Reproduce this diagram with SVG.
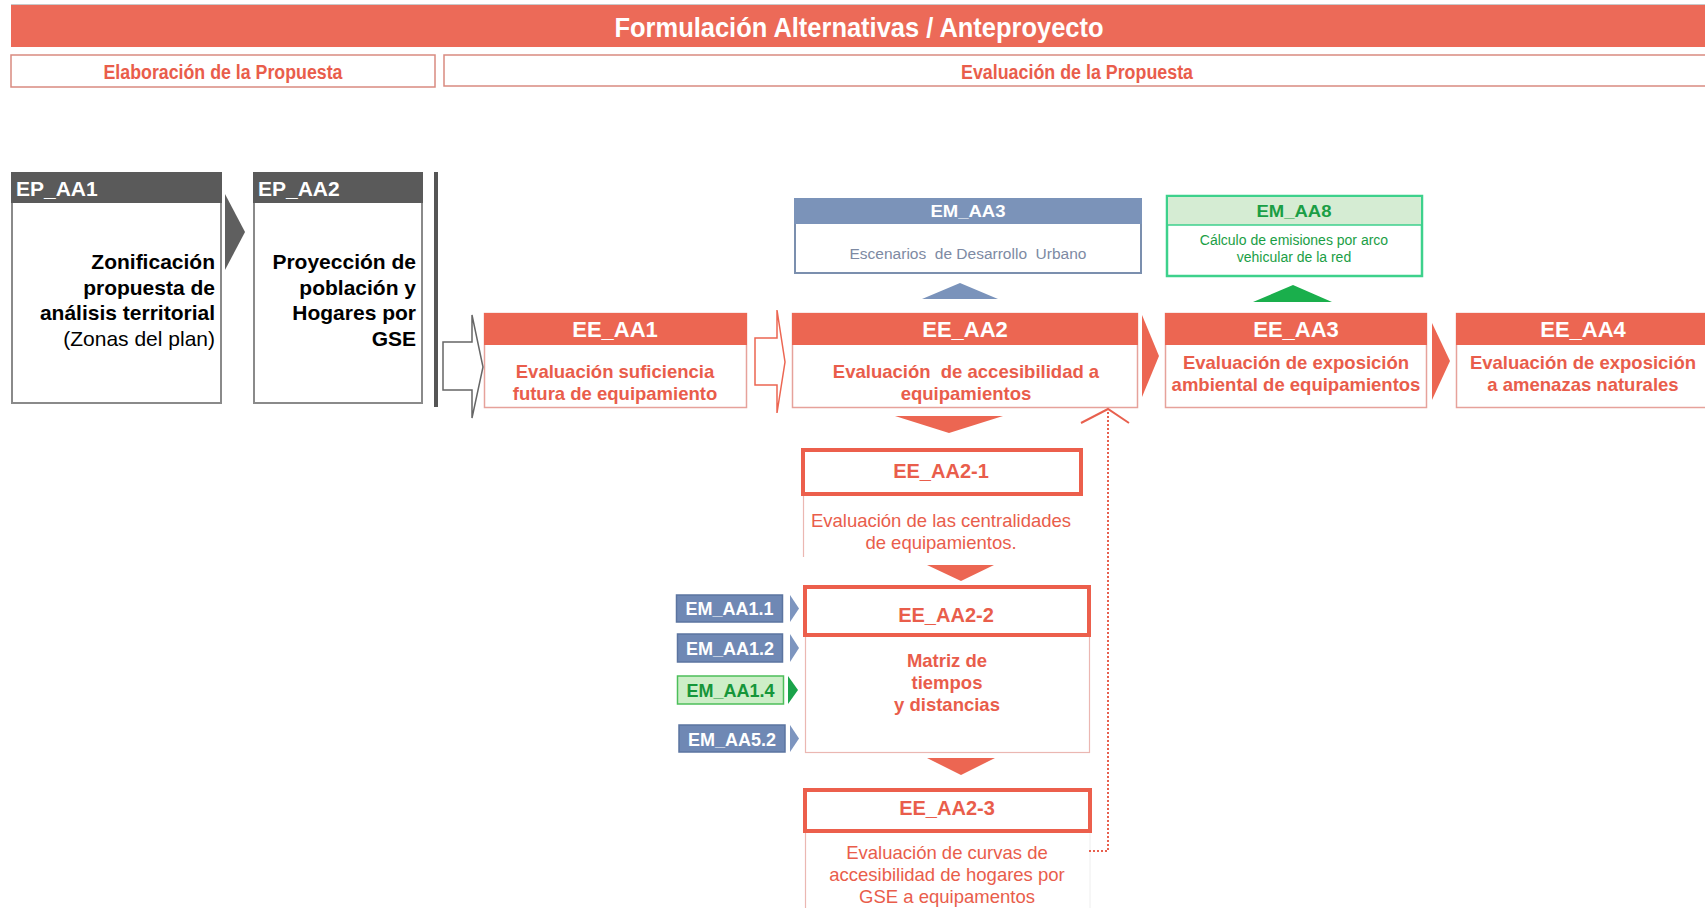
<svg xmlns="http://www.w3.org/2000/svg" width="1705" height="908" viewBox="0 0 1705 908">
<style>
text{font-family:"Liberation Sans",Arial,sans-serif}
.b{font-weight:bold}
.w{fill:#ffffff}
.r{fill:#e95d4b}
.hd{fill:#ec6652}
.ebox{fill:#ffffff;stroke:#e6a29b;stroke-width:1.5}
.thick{fill:#ffffff;stroke:#ec5f4c;stroke-width:4}
.thin{fill:none;stroke:#ebb7b2;stroke-width:1.2}
.ep{fill:#ffffff;stroke:#8a8a8a;stroke-width:2}
.eph{fill:#5a5a5a}
.emb{fill:#6f88b4;stroke:#5b74a0;stroke-width:1.5}
.emg{fill:#cdeec8;stroke:#4cbf5a;stroke-width:1.5}
.chb{fill:#7d95bf}
.chg{fill:#1aa34a}
.chr{fill:#ec6652}
</style>
<!-- header -->
<g id="title">
<line x1="11" y1="4.5" x2="1705" y2="4.5" stroke="#c8c8c8" stroke-width="1"/>
<rect x="11" y="5" width="1694" height="42" fill="#ec6a58"/>
<text x="859" y="37" class="b w" font-size="28" text-anchor="middle" textLength="489" lengthAdjust="spacingAndGlyphs">Formulación Alternativas / Anteproyecto</text>
</g>
<g id="sub-elaboracion">
<rect x="11" y="55" width="424" height="32" fill="#fff" stroke="#d98a80" stroke-width="1.5"/>
<text x="223" y="79" class="b r" font-size="20" text-anchor="middle" textLength="239" lengthAdjust="spacingAndGlyphs">Elaboración de la Propuesta</text>
</g>
<g id="sub-evaluacion">
<rect x="444" y="55" width="1270" height="31" fill="#fff" stroke="#d98a80" stroke-width="1.5"/>
<text x="1077" y="79" class="b r" font-size="20" text-anchor="middle" textLength="232" lengthAdjust="spacingAndGlyphs">Evaluación de la Propuesta</text>
</g>
<!-- EP nodes -->
<g id="EP_AA1">
<rect x="12" y="173" width="209" height="230" class="ep"/>
<rect x="11" y="172" width="211" height="31" class="eph"/>
<text x="16" y="196" class="b w" font-size="21">EP_AA1</text>
<text x="215" y="269" class="b" font-size="21" text-anchor="end">Zonificación</text>
<text x="215" y="295" class="b" font-size="21" text-anchor="end">propuesta de</text>
<text x="215" y="320" class="b" font-size="21" text-anchor="end">análisis territorial</text>
<text x="215" y="346" font-size="21" text-anchor="end">(Zonas del plan)</text>
</g>
<g id="EP_AA2">
<rect x="254" y="173" width="168" height="230" class="ep"/>
<rect x="253" y="172" width="170" height="31" class="eph"/>
<text x="258" y="196" class="b w" font-size="21">EP_AA2</text>
<text x="416" y="269" class="b" font-size="21" text-anchor="end">Proyección de</text>
<text x="416" y="295" class="b" font-size="21" text-anchor="end">población y</text>
<text x="416" y="320" class="b" font-size="21" text-anchor="end">Hogares por</text>
<text x="416" y="346" class="b" font-size="21" text-anchor="end">GSE</text>
</g>
<!-- EE nodes -->
<g id="EE_AA1">
<rect x="484.5" y="313.5" width="262" height="94" class="ebox"/>
<rect x="484" y="313" width="263" height="32" class="hd"/>
<text x="615" y="337" class="b w" font-size="22" text-anchor="middle">EE_AA1</text>
<text x="615" y="378" class="b r" font-size="18.5" text-anchor="middle">Evaluación suficiencia</text>
<text x="615" y="400" class="b r" font-size="18.5" text-anchor="middle">futura de equipamiento</text>
</g>
<g id="EE_AA2">
<rect x="792.5" y="313.5" width="345" height="94" class="ebox"/>
<rect x="792" y="313" width="346" height="32" class="hd"/>
<text x="965" y="337" class="b w" font-size="22" text-anchor="middle">EE_AA2</text>
<text x="966" y="378" class="b r" font-size="18.5" text-anchor="middle" xml:space="preserve">Evaluación  de accesibilidad a</text>
<text x="966" y="400" class="b r" font-size="18.5" text-anchor="middle">equipamientos</text>
</g>
<g id="EE_AA3">
<rect x="1165.5" y="313.5" width="261" height="94" class="ebox"/>
<rect x="1165" y="313" width="262" height="32" class="hd"/>
<text x="1296" y="337" class="b w" font-size="22" text-anchor="middle">EE_AA3</text>
<text x="1296" y="369" class="b r" font-size="18.5" text-anchor="middle">Evaluación de exposición</text>
<text x="1296" y="391" class="b r" font-size="18.5" text-anchor="middle">ambiental de equipamientos</text>
</g>
<g id="EE_AA4">
<rect x="1456.5" y="313.5" width="260" height="94" class="ebox"/>
<rect x="1456" y="313" width="260" height="32" class="hd"/>
<text x="1583" y="337" class="b w" font-size="22" text-anchor="middle">EE_AA4</text>
<text x="1583" y="369" class="b r" font-size="18.5" text-anchor="middle">Evaluación de exposición</text>
<text x="1583" y="391" class="b r" font-size="18.5" text-anchor="middle">a amenazas naturales</text>
</g>
<!-- EM top nodes -->
<g id="EM_AA3">
<rect x="795" y="199" width="346" height="74" fill="#fff" stroke="#7b8fae" stroke-width="2"/>
<rect x="794" y="198" width="348" height="26" fill="#7b93b9"/>
<text x="968" y="217" class="b w" font-size="17" text-anchor="middle" textLength="75" lengthAdjust="spacingAndGlyphs">EM_AA3</text>
<text x="968" y="259" font-size="15.5" fill="#7d8aa3" text-anchor="middle" xml:space="preserve">Escenarios  de Desarrollo  Urbano</text>
</g>
<g id="EM_AA8">
<rect x="1167" y="196" width="255" height="80" fill="#fff" stroke="#3dd18c" stroke-width="2.5"/>
<rect x="1168" y="197" width="253" height="28" fill="#d5ecd3"/>
<line x1="1167" y1="225" x2="1422" y2="225" stroke="#3dd18c" stroke-width="1.5"/>
<text x="1294" y="217" class="b" fill="#1a9e45" font-size="17" text-anchor="middle" textLength="75" lengthAdjust="spacingAndGlyphs">EM_AA8</text>
<text x="1294" y="245" fill="#1a9e45" font-size="14" text-anchor="middle">Cálculo de emisiones por arco</text>
<text x="1294" y="262" fill="#1a9e45" font-size="14" text-anchor="middle">vehicular de la red</text>
</g>
<!-- EE_AA2 sub nodes -->
<g id="EE_AA2-1">
<line x1="803.5" y1="495" x2="803.5" y2="557" class="thin"/>
<rect x="803" y="450" width="278" height="44" class="thick"/>
<text x="941" y="478" class="b r" font-size="20" text-anchor="middle">EE_AA2-1</text>
<text x="941" y="527" class="r" font-size="18.5" text-anchor="middle">Evaluación de las centralidades</text>
<text x="941" y="549" class="r" font-size="18.5" text-anchor="middle">de equipamientos.</text>
</g>
<g id="EE_AA2-2">
<rect x="805.5" y="636" width="284" height="116.5" class="thin"/>
<rect x="805" y="587" width="284" height="48" class="thick"/>
<text x="946" y="622" class="b r" font-size="20" text-anchor="middle">EE_AA2-2</text>
<text x="947" y="667" class="b r" font-size="18.5" text-anchor="middle">Matriz de</text>
<text x="947" y="689" class="b r" font-size="18.5" text-anchor="middle">tiempos</text>
<text x="947" y="711" class="b r" font-size="18.5" text-anchor="middle">y distancias</text>
</g>
<g id="EE_AA2-3">
<line x1="805.5" y1="832" x2="805.5" y2="908" class="thin"/>
<line x1="1090" y1="832" x2="1090" y2="908" stroke="#eeeeee" stroke-width="1"/>
<rect x="805" y="790" width="285" height="41" class="thick"/>
<text x="947" y="815" class="b r" font-size="20" text-anchor="middle">EE_AA2-3</text>
<text x="947" y="859" class="r" font-size="18.5" text-anchor="middle">Evaluación de curvas de</text>
<text x="947" y="881" class="r" font-size="18.5" text-anchor="middle">accesibilidad de hogares por</text>
<text x="947" y="903" class="r" font-size="18.5" text-anchor="middle">GSE a equipamentos</text>
</g>
<!-- EM small inputs -->
<g id="EM_AA1.1">
<rect x="676.5" y="595" width="106" height="27" class="emb"/>
<text x="729.5" y="615" class="b w" font-size="18" text-anchor="middle">EM_AA1.1</text>
</g>
<g id="EM_AA1.2">
<rect x="677.5" y="634" width="105" height="28" class="emb"/>
<text x="730" y="655" class="b w" font-size="18" text-anchor="middle">EM_AA1.2</text>
</g>
<g id="EM_AA1.4">
<rect x="677.5" y="676" width="106" height="28" class="emg"/>
<text x="730.5" y="697" class="b" fill="#16963a" font-size="18" text-anchor="middle">EM_AA1.4</text>
</g>
<g id="EM_AA5.2">
<rect x="679" y="725" width="106" height="27" class="emb"/>
<text x="732" y="746" class="b w" font-size="18" text-anchor="middle">EM_AA5.2</text>
</g>
<!-- connectors -->
<g id="connectors">
<polygon points="225,194 245,232 225,270" fill="#5f5f5f"/>
<rect x="434" y="172" width="4" height="235" fill="#555555"/>
<polygon points="443,342 472,342 472,315 483,367 472,418 472,390 443,390" fill="#fff" stroke="#666" stroke-width="1.5"/>
<polygon points="755,338 777,338 777,310 785,362 777,413 777,385 755,385" fill="#fff" stroke="#ec6652" stroke-width="1.5"/>
<polygon points="1142,315 1159,356 1142,397" class="chr"/>
<polygon points="1432,323 1450,361 1432,400" class="chr"/>
<polygon points="922,299 960,283 998,299" fill="#7a93bb"/>
<polygon points="1253,302 1293,285 1332,302" fill="#1aaf4c"/>
<polygon points="895,416 1003,416 949,433" class="chr"/>
<polygon points="927,565 994,565 961,581" class="chr"/>
<polygon points="927,758 995,758 961,775" class="chr"/>
<polygon points="790,595 799,608.5 790,622" class="chb"/>
<polygon points="790,634 799,648 790,662" class="chb"/>
<polygon points="788,676 798,690 788,704" class="chg"/>
<polygon points="790,725 799,738.5 790,752" class="chb"/>
<path d="M1089,851 H1108 V411" fill="none" stroke="#e8604e" stroke-width="2" stroke-dasharray="2,2"/>
<polyline points="1081,423 1108,409 1129,423" fill="none" stroke="#e8604e" stroke-width="2"/>
</g>
</svg>
